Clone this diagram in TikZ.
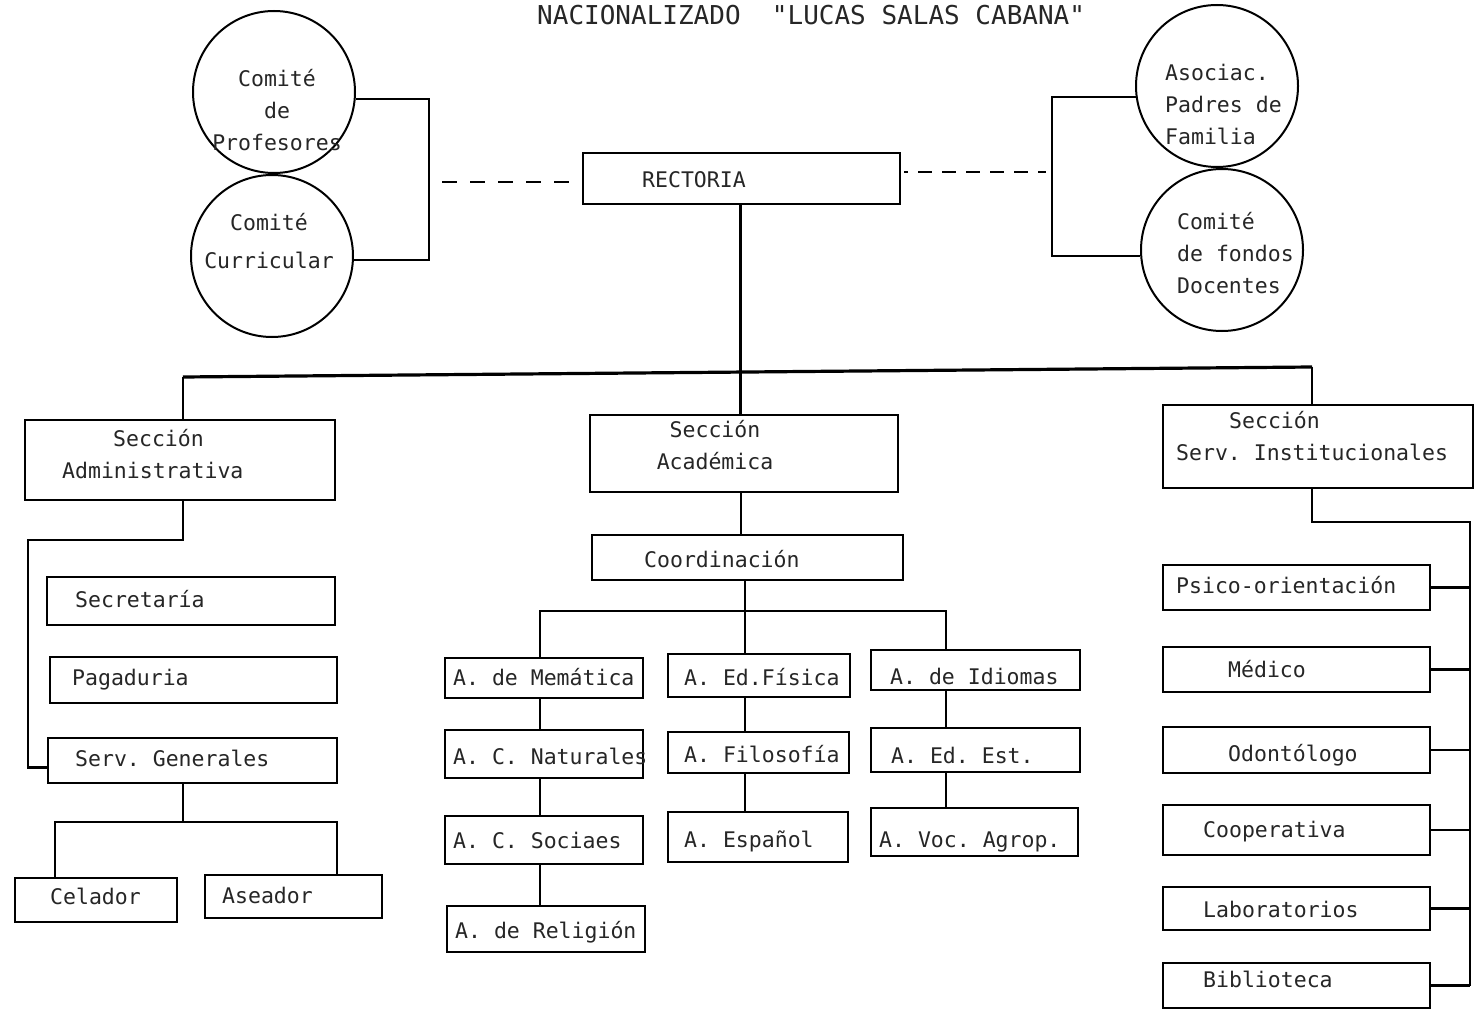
\documentclass[tikz,border=0pt]{standalone}
\usepackage{fontspec}
\newfontfamily\tw{DejaVu Sans Mono}
\usetikzlibrary{calc}
\frenchspacing
\newcommand\mkbox[5]{\node[bx, minimum width=#4pt-#2pt, minimum height=#5pt-#3pt] (#1) at ({(#2+#4)/2},{(#3+#5)/2}) {};}
\newcommand\mktx[4]{\node[txt, anchor=base west] (#1) at (#2,{#3+7}) {#4};}
\begin{document}
\frenchspacing
\begin{tikzpicture}[x=1pt,y=-1pt,
  bx/.style={draw, rectangle, line width=2.1pt, inner sep=0pt},
  circ/.style={draw, circle, line width=2pt, inner sep=0pt, minimum size=162pt},
  txt/.style={font=\tw\fontsize{21.5}{32}\selectfont\frenchspacing, inner sep=0pt, text=black!85},
  ln/.style={line width=2.1pt},
  bus/.style={line width=3.2pt}]
\useasboundingbox (0,0) rectangle (1476,1011);
\fill[white] (0,0) rectangle (1476,1011);

% title
\node[font=\tw\fontsize{26}{30}\selectfont, anchor=base west, inner sep=0pt, text=black!85] (title) at (537,25) {NACIONALIZADO\ \ "LUCAS SALAS CABANA"};

% circles
\node[circ] (cprof) at (274,92) {};
\node[circ] (ccur) at (272,256) {};
\node[circ] (casoc) at (1217,86) {};
\node[circ] (cfond) at (1222,250) {};
\node[txt, align=center] (tprof) at (277,110) {Comité\\de\\Profesores};
\node[txt, align=center, font=\tw\fontsize{21.5}{38}\selectfont] (tcur) at (269,241) {Comité\\Curricular};
\node[txt, align=left, anchor=west] (tasoc) at (1165,104) {Asociac.\\Padres de\\Familia};
\node[txt, align=left, anchor=west] (tfond) at (1177,253) {Comité\\de fondos\\Docentes};

% boxes
\mkbox{rect}{583}{153}{900}{204}
\mkbox{sadm}{25}{420}{335}{500}
\mkbox{saca}{590}{415}{898}{492}
\mkbox{sserv}{1163}{405}{1473}{488}
\mkbox{secr}{47}{577}{335}{625}
\mkbox{paga}{50}{657}{337}{703}
\mkbox{sgen}{48}{738}{337}{783}
\mkbox{cela}{15}{878}{177}{922}
\mkbox{asea}{205}{875}{382}{918}
\mkbox{coord}{592}{535}{903}{580}
\mkbox{mat}{445}{658}{643}{698}
\mkbox{nat}{445}{730}{643}{778}
\mkbox{soc}{445}{816}{643}{864}
\mkbox{rel}{447}{906}{645}{952}
\mkbox{edf}{668}{654}{850}{697}
\mkbox{fil}{668}{732}{849}{773}
\mkbox{esp}{668}{812}{848}{862}
\mkbox{idi}{871}{650}{1080}{690}
\mkbox{ede}{871}{728}{1080}{772}
\mkbox{voc}{871}{808}{1078}{856}
\mkbox{psi}{1163}{565}{1430}{610}
\mkbox{med}{1163}{647}{1430}{692}
\mkbox{odo}{1163}{727}{1430}{773}
\mkbox{coop}{1163}{805}{1430}{855}
\mkbox{lab}{1163}{887}{1430}{930}
\mkbox{bib}{1163}{963}{1430}{1008}

% texts
\mktx{trect}{642}{181}{RECTORIA}
\node[txt, align=left, anchor=west] (tsadm) at (62,454) {\hspace*{51pt}Sección\\Administrativa};
\node[txt, align=center] (tsaca) at (715,445) {Sección\\Académica};
\node[txt, align=left, anchor=west] (tsserv) at (1176,436) {\hspace*{53pt}Sección\\Serv. Institucionales};
\mktx{tsecr}{75}{600}{Secretaría}
\mktx{tpaga}{72}{678}{Pagaduria}
\mktx{tsgen}{75}{759}{Serv. Generales}
\mktx{tcela}{50}{897}{Celador}
\mktx{tasea}{222}{896}{Aseador}
\mktx{tcoord}{644}{560}{Coordinación}
\mktx{tmat}{453}{678}{A. de Memática}
\mktx{tnat}{453}{757}{A. C. Naturales}
\mktx{tsoc}{453}{841}{A. C. Sociaes}
\mktx{trel}{455}{931}{A. de Religión}
\mktx{tedf}{684}{678}{A. Ed.Física}
\mktx{tfil}{684}{755}{A. Filosofía}
\mktx{tesp}{684}{840}{A. Español}
\mktx{tidi}{890}{677}{A. de Idiomas}
\mktx{tede}{891}{756}{A. Ed. Est.}
\mktx{tvoc}{879}{840}{A. Voc. Agrop.}
\mktx{tpsi}{1176}{586}{Psico-orientación}
\mktx{tmed}{1228}{670}{Médico}
\mktx{todo}{1228}{754}{Odontólogo}
\mktx{tcoop}{1203}{830}{Cooperativa}
\mktx{tlab}{1203}{910}{Laboratorios}
\mktx{tbib}{1203}{980}{Biblioteca}

% committee brackets and dashed links
\draw[ln] (cprof.-5) -- ++(73,0) |- (ccur.-3);
\draw[ln] (casoc.188) -- ++(-84,0) |- (cfond.184);
\draw[ln, dash pattern=on 15pt off 13pt] ([shift={(-13pt,-3.5pt)}]rect.west) -- ++(-128,0);
\draw[ln, dash pattern=on 4pt off 10pt on 14pt off 10pt on 14pt off 10pt on 14pt off 10pt on 14pt off 10pt on 14pt off 10pt on 14pt off 200pt] ([shift={(3pt,6.5pt)}]rect.east) -- ++(142,0);

% main bus
\coordinate (busL) at (183,377);
\coordinate (busR) at (1312,367);
\draw[ln] ([xshift=-1pt]rect.south) -- ([xshift=-1pt]rect.south |- saca.north);
\draw[bus] (busL) -- (busR);
\draw[ln] (busL) -- (busL |- sadm.north);
\draw[ln] (busR) -- (busR |- sserv.north);

% administrative branch
\draw[ln] ([xshift=3pt]sadm.south) |- (28,540) |- ([yshift=-7pt]sgen.west);
\coordinate (cL) at (55,822);
\coordinate (cR) at (337,822);
\draw[ln] ([xshift=-9.5pt]sgen.south) -- ([xshift=-9.5pt]sgen.south |- cL);
\draw[ln] (cL |- cela.north) -- (cL) -- (cR) -- (cR |- asea.north);

% academic branch
\draw[ln] ([xshift=-3pt]saca.south) -- ([xshift=-3pt]saca.south |- coord.north);
\coordinate (aL) at (540,611);
\coordinate (aM) at (745,611);
\coordinate (aR) at (946,611);
\draw[ln] (aM |- coord.south) -- (aM |- edf.north);
\draw[ln] (aL |- mat.north) -- (aL) -- (aR) -- (aR |- idi.north);
\draw[ln] (aL |- mat.south) -- (aL |- nat.north);
\draw[ln] (aL |- nat.south) -- (aL |- soc.north);
\draw[ln] (aL |- soc.south) -- (aL |- rel.north);
\draw[ln] (aM |- edf.south) -- (aM |- fil.north);
\draw[ln] (aM |- fil.south) -- (aM |- esp.north);
\draw[ln] (aR |- idi.south) -- (aR |- ede.north);
\draw[ln] (aR |- ede.south) -- (aR |- voc.north);

% institutional services branch
\coordinate (sR) at (1470,522);
\draw[ln] (busR |- sserv.south) |- (sR) -- (sR |- bib.east);
\foreach \b in {psi,med,odo,coop,lab,bib}
  \draw[ln] (\b.east) -- (\b.east -| sR);
\end{tikzpicture}
\end{document}
